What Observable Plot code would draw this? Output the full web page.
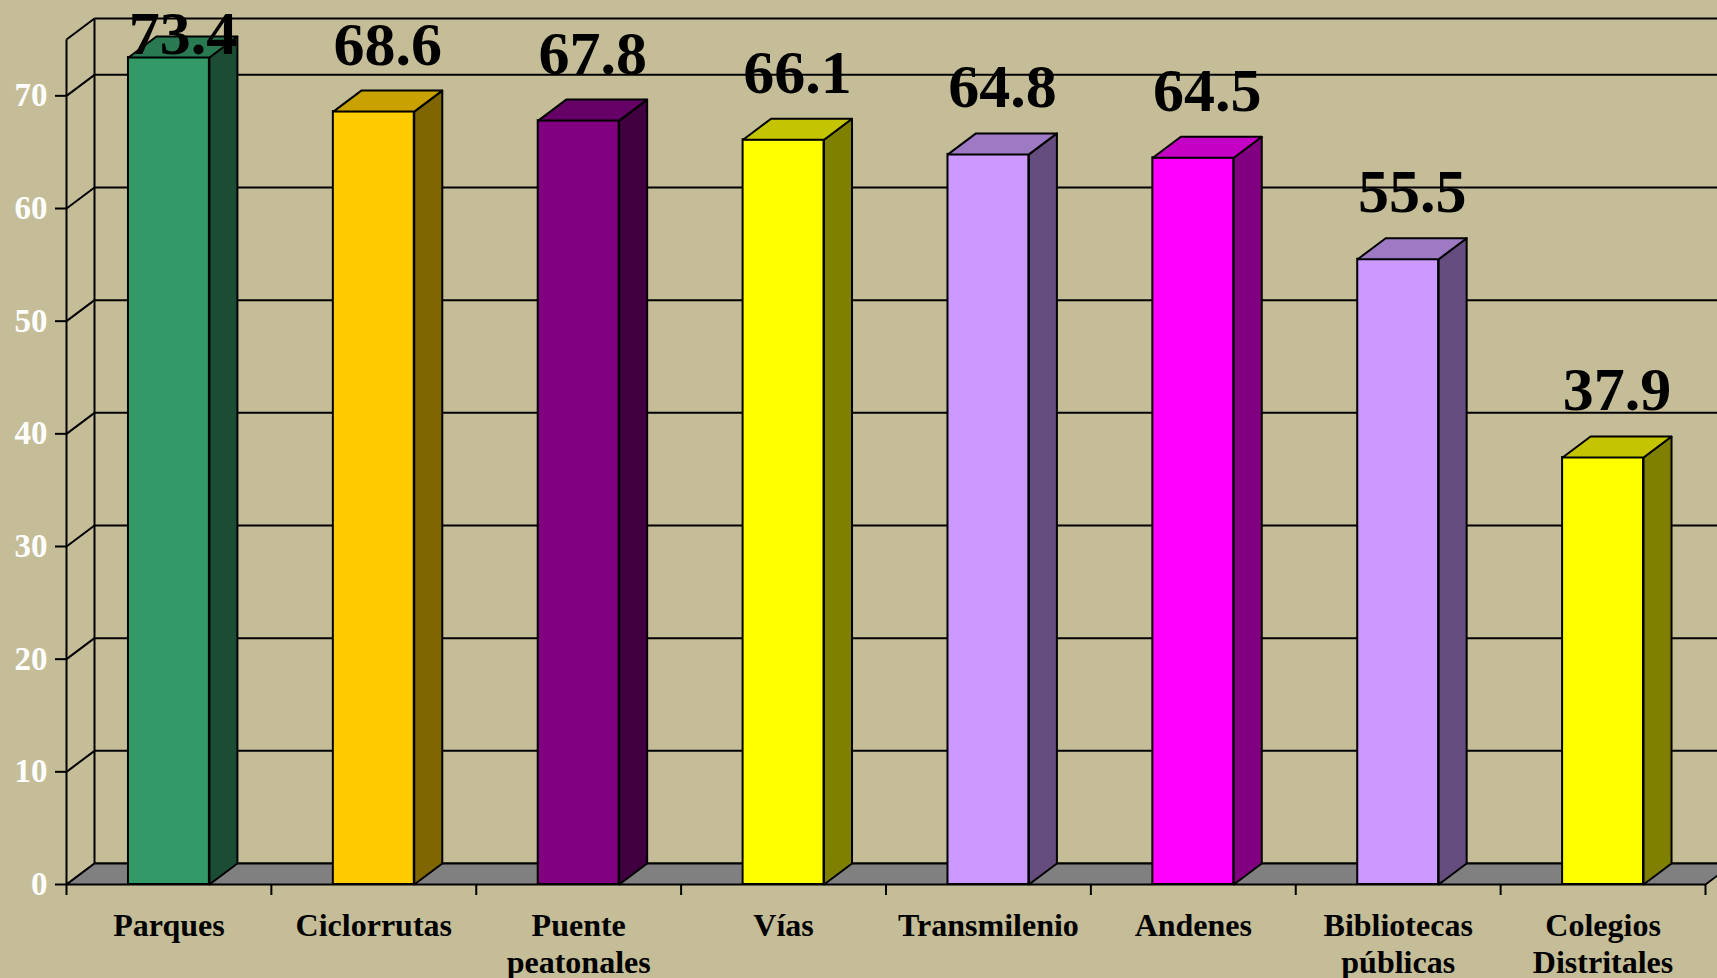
<!DOCTYPE html>
<html>
<head>
<meta charset="utf-8">
<script src="https://cdn.jsdelivr.net/npm/d3@7"></script>
<script src="https://cdn.jsdelivr.net/npm/@observablehq/plot@0.6"></script>
<style>
  html, body { margin: 0; padding: 0; background: #C4BD97; overflow: hidden; }
  #chart svg { display: block; }
</style>
</head>
<body>
<div id="chart"></div>
<script>
// ---- data ----
const categories = ["Parques", "Ciclorrutas", "Puente peatonales", "Vías", "Transmilenio", "Andenes", "Bibliotecas públicas", "Colegios Distritales"];
const values = [73.4, 68.6, 67.8, 66.1, 64.8, 64.5, 55.5, 37.9];
const yTicks = [0, 10, 20, 30, 40, 50, 60, 70];

// ---- styles ----
const frontColors = ["#339966", "#FFCC00", "#800080", "#FFFF00", "#CC99FF", "#FF00FF", "#CC99FF", "#FFFF00"];
const sideColors  = ["#1A4D33", "#806600", "#400040", "#808000", "#664D80", "#800080", "#664D80", "#808000"];
const topColors   = ["#297A52", "#C9A100", "#660066", "#C4C400", "#9E7AC4", "#C400C4", "#9E7AC4", "#C4C400"];

// ---- layout ----
const W = 1717, H = 978;
const mL = 66, mR = 12, mT = 39, mB = 94;
const yMax = 75;
const n = categories.length;
const pxPerCat = (W - mL - mR) / n;
const pxPerUnit = (H - mT - mB) / yMax;
const DX = 28 / pxPerCat;      // depth, in x units
const DY = 21 / pxPerUnit;     // depth, in y units
const barW = 0.395;
const LIFT = 47 / pxPerUnit;

const idx = d3.range(n);
const gridVals = [...yTicks, yMax];

// faces as polygons
const polys = [];
[[0, 0], [n, 0], [n + DX, DY], [DX, DY]].forEach(([x, y]) => polys.push({id: "floor", x, y, fill: "#808080"}));
const barFaces = [];
idx.forEach(i => {
  const v = values[i];
  const xl = i + 0.5 - barW / 2, xr = i + 0.5 + barW / 2;
  [[xr, 0], [xr, v], [xr + DX, v + DY], [xr + DX, DY]].forEach(([x, y]) => barFaces.push({id: "s" + i, x, y, fill: sideColors[i]}));
  [[xl, v], [xr, v], [xr + DX, v + DY], [xl + DX, v + DY]].forEach(([x, y]) => barFaces.push({id: "t" + i, x, y, fill: topColors[i]}));
});

const chart = Plot.plot({
  width: W, height: H,
  marginLeft: mL, marginRight: mR, marginTop: mT, marginBottom: mB,
  x: {type: "linear", domain: [0, n], axis: null},
  y: {domain: [0, yMax], axis: null},
  color: {type: "identity"},
  style: {fontFamily: "'Liberation Serif', 'Times New Roman', serif", fontWeight: "bold", background: "transparent"},
  marks: [
    // back wall gridlines
    Plot.link(gridVals, {x1: DX, x2: n + DX + 2, y1: v => v + DY, y2: v => v + DY, stroke: "black", strokeWidth: 2}),
    // left wall diagonals
    Plot.link(gridVals, {x1: 0, x2: DX, y1: v => v, y2: v => v + DY, stroke: "black", strokeWidth: 2}),
    // left wall verticals
    Plot.link([0, 1], {x1: d => d * DX, x2: d => d * DX, y1: d => d * DY, y2: d => yMax + d * DY, stroke: "black", strokeWidth: 2}),
    // floor
    Plot.line(polys, {x: "x", y: "y", z: "id", fill: "fill", stroke: "black", strokeWidth: 2, curve: "linear-closed"}),
    // y axis ticks & labels
    Plot.axisY({ticks: yTicks, tickSize: 11, tickPadding: 8, fontSize: 33, fontWeight: "bold", fill: "white", stroke: "black", strokeWidth: 2, label: null}),
    // x ticks
    Plot.ruleX(d3.range(n + 1), {x: d => d, y1: 0, y2: -11 / pxPerUnit, stroke: "black", strokeWidth: 2}),
    // bars: front faces
    Plot.rect(idx, {x1: i => i + 0.5 - barW / 2, x2: i => i + 0.5 + barW / 2, y1: 0, y2: i => values[i], fill: i => frontColors[i], stroke: "black", strokeWidth: 2}),
    // bars: side & top faces
    Plot.line(barFaces, {x: "x", y: "y", z: "id", fill: "fill", stroke: "black", strokeWidth: 2, curve: "linear-closed"}),
    // category labels
    Plot.text(idx, {x: i => i + 0.5, y: 0, dy: 25, text: i => categories[i].replace(" ", "\n"), lineAnchor: "top", lineHeight: 1.16, fontSize: 32, fontWeight: "bold", fill: "black"}),
    // value labels
    Plot.text(idx, {x: i => i + 0.5 + DX / 2, y: i => Math.min(values[i] + LIFT, yMax - 1.25), text: i => values[i].toFixed(1), lineAnchor: "bottom", fontSize: 62, fontWeight: "bold", fill: "black"})
  ]
});
document.getElementById("chart").append(chart);
</script>
</body>
</html>
